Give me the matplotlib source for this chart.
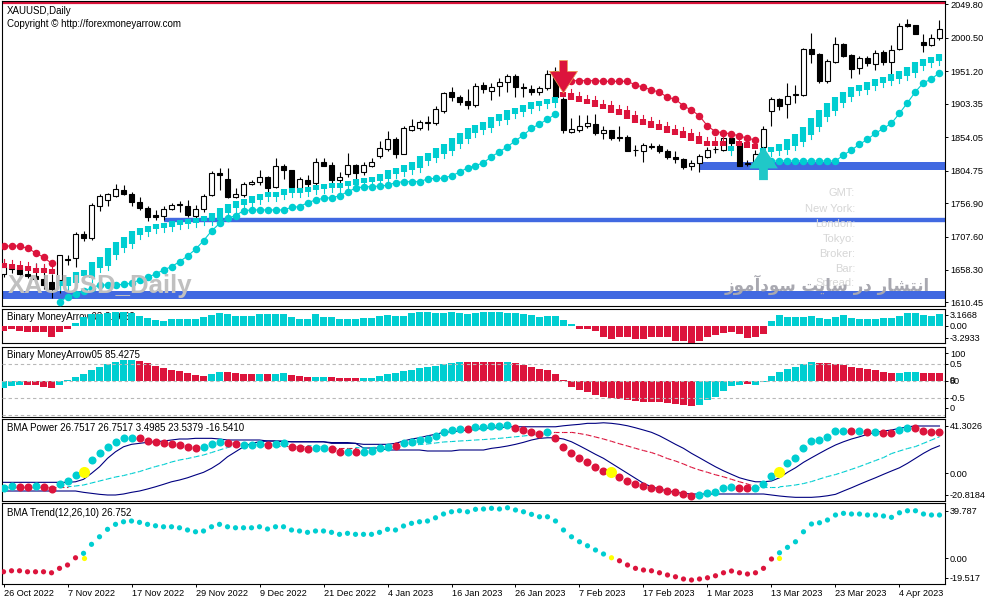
import matplotlib.pyplot as plt
import numpy as np
from matplotlib.patches import Polygon

plt.rcParams['font.family'] = ['Liberation Sans', 'DejaVu Sans']

# ---------------- data ----------------
date_labels = ['26 Oct 2022', '7 Nov 2022', '17 Nov 2022', '29 Nov 2022', '9 Dec 2022',
               '21 Dec 2022', '4 Jan 2023', '16 Jan 2023', '26 Jan 2023', '7 Feb 2023',
               '17 Feb 2023', '1 Mar 2023', '13 Mar 2023', '23 Mar 2023', '4 Apr 2023']
date_bars = [0, 8, 16, 24, 32, 40, 48, 56, 64, 72, 80, 88, 96, 104, 112]

price_ticks = [2049.80, 2000.50, 1951.20, 1903.35, 1854.05, 1804.75,
               1756.90, 1707.60, 1658.30, 1610.45]

opens = [1652, 1661, 1661, 1653, 1650, 1645, 1640, 1644, 1675, 1676,
         1711, 1705, 1753, 1762, 1768, 1776, 1771, 1759, 1749, 1739,
         1738, 1748, 1754, 1752, 1738, 1748, 1769, 1802, 1793, 1766,
         1769, 1785, 1788, 1796, 1780, 1811, 1806, 1779, 1791, 1786,
         1817, 1813, 1791, 1800, 1813, 1803, 1812, 1827, 1837, 1852,
         1830, 1864, 1868, 1875, 1875, 1893, 1920, 1914, 1908, 1901,
         1931, 1922, 1930, 1935, 1944, 1928, 1925, 1920, 1926, 1951,
         1911, 1862, 1865, 1871, 1874, 1860, 1864, 1854, 1854, 1835,
         1834, 1840, 1841, 1833, 1825, 1822, 1812, 1816, 1825, 1837,
         1835, 1853, 1845, 1814, 1816, 1840, 1892, 1910, 1903, 1917,
         1916, 1984, 1977, 1937, 1965, 1991, 1975, 1956, 1971, 1962,
         1979, 1965, 1984, 2021, 2020, 1994, 1990, 2001]
highs = [1675, 1666, 1666, 1663, 1668, 1666, 1652, 1681, 1681, 1714,
         1716, 1757, 1770, 1772, 1785, 1784, 1774, 1766, 1753, 1747,
         1753, 1757, 1760, 1761, 1754, 1770, 1804, 1808, 1809, 1779,
         1788, 1791, 1806, 1797, 1824, 1814, 1806, 1796, 1798, 1823,
         1823, 1818, 1803, 1831, 1814, 1818, 1824, 1848, 1863, 1855,
         1870, 1881, 1879, 1885, 1900, 1921, 1928, 1916, 1925, 1934,
         1936, 1934, 1941, 1947, 1947, 1934, 1931, 1930, 1953, 1957,
         1914, 1882, 1887, 1887, 1888, 1870, 1865, 1870, 1857, 1843,
         1845, 1845, 1844, 1836, 1833, 1823, 1821, 1829, 1840, 1841,
         1855, 1855, 1848, 1821, 1835, 1870, 1914, 1912, 1934, 1931,
         1985, 2008, 1978, 1970, 2002, 1993, 1977, 1974, 1974, 1983,
         1983, 1990, 2022, 2029, 2020, 2006, 2006, 2027]
lows = [1648, 1654, 1648, 1646, 1640, 1630, 1617, 1625, 1666, 1663,
        1701, 1702, 1745, 1752, 1766, 1769, 1752, 1747, 1731, 1732,
        1732, 1747, 1744, 1737, 1734, 1744, 1767, 1776, 1764, 1764,
        1766, 1784, 1784, 1774, 1779, 1793, 1774, 1774, 1779, 1784,
        1811, 1784, 1784, 1796, 1793, 1798, 1810, 1823, 1834, 1823,
        1829, 1863, 1865, 1865, 1872, 1890, 1908, 1902, 1895, 1899,
        1919, 1909, 1915, 1920, 1914, 1914, 1916, 1916, 1923, 1910,
        1860, 1861, 1862, 1867, 1858, 1851, 1850, 1848, 1834, 1826,
        1817, 1836, 1831, 1822, 1816, 1807, 1805, 1803, 1823, 1831,
        1833, 1833, 1811, 1811, 1812, 1838, 1870, 1894, 1883, 1904,
        1915, 1964, 1934, 1934, 1963, 1973, 1942, 1947, 1959, 1953,
        1961, 1947, 1983, 2017, 2006, 1979, 1989, 1998]
closes = [1663, 1660, 1652, 1650, 1645, 1636, 1630, 1680, 1673, 1711,
          1705, 1754, 1767, 1770, 1777, 1771, 1759, 1749, 1737, 1737,
          1748, 1754, 1755, 1739, 1748, 1767, 1802, 1798, 1766, 1771,
          1785, 1788, 1796, 1779, 1811, 1806, 1781, 1792, 1785, 1817,
          1812, 1791, 1796, 1813, 1801, 1813, 1817, 1838, 1852, 1830,
          1867, 1870, 1876, 1876, 1895, 1919, 1913, 1906, 1902, 1930,
          1925, 1928, 1936, 1944, 1928, 1927, 1921, 1927, 1948, 1913,
          1865, 1866, 1871, 1875, 1860, 1865, 1853, 1853, 1834, 1835,
          1842, 1841, 1834, 1825, 1822, 1810, 1816, 1826, 1835, 1836,
          1853, 1845, 1812, 1816, 1829, 1866, 1911, 1900, 1915, 1918,
          1984, 1977, 1937, 1966, 1991, 1974, 1954, 1971, 1963, 1978,
          1965, 1983, 2018, 2018, 2006, 1990, 2001, 2013]

# trailing stop dots (r = above price, c = below price)
stop_vals = [1693.7, 1693.7, 1693.7, 1690.3, 1683.8, 1677.0, 1668.2,
             1611.6, 1618.5, 1622.9, 1627.3, 1631.8, 1636.2, 1636.2, 1636.2, 1637.2, 1638.7,
             1643.6, 1647.5, 1652.4, 1658.3, 1663.2, 1670.5, 1678.9, 1688.8, 1701.5, 1715.8,
             1726.9, 1734.5, 1738.4, 1745.7, 1746.8, 1746.8, 1746.8, 1746.8, 1746.8, 1750.7,
             1751.6, 1757.5, 1761.5, 1764.0, 1764.9, 1767.4, 1773.7, 1778.7, 1781.1, 1781.1,
             1782.1, 1783.2, 1787.0, 1788.5, 1788.5, 1788.5, 1792.5, 1793.5, 1793.5, 1797.3,
             1802.3, 1809.1, 1812.1, 1816.5, 1825.4, 1832.7, 1840.1, 1848.9, 1857.3, 1867.2,
             1873.6, 1880.5, 1888.3,
             1937.4, 1937.4, 1937.4, 1937.4, 1937.4, 1936.5, 1936.5, 1936.5, 1936.5, 1931.0,
             1927.7, 1923.7, 1920.5, 1912.9, 1910.0, 1900.1, 1894.2, 1885.3, 1870.6, 1862.2,
             1860.7, 1858.8, 1855.9, 1852.5, 1850.0,
             1819.0, 1819.0, 1819.0, 1819.0, 1819.0, 1819.0, 1819.0, 1819.0, 1819.0, 1819.0,
             1827.8, 1835.2, 1843.6, 1851.0, 1859.8, 1867.2, 1874.6, 1889.3, 1904.9, 1921.2,
             1934.4, 1939.9, 1949.2]
stop_side = 'r' * 7 + 'c' * 63 + 'r' * 25 + 'c' * 23

# step markers (squares)
step_vals = [1660.8, 1659.8, 1658.3, 1656.8, 1654.3, 1653.4, 1652.4,
             1642.1, 1648.0, 1655.4, 1658.3, 1670.1, 1677.5, 1690.7, 1699.6, 1707.0, 1715.8,
             1720.2, 1723.2, 1725.4, 1727.6, 1730.5, 1732.0, 1733.5, 1735.0, 1737.2, 1741.6,
             1749.7, 1755.6, 1760.0, 1763.7, 1767.4, 1770.4, 1772.6, 1774.0, 1777.0, 1778.5,
             1779.6, 1781.1, 1783.6, 1785.8, 1787.0, 1787.0, 1789.5, 1792.9, 1794.4, 1795.8,
             1799.8, 1805.7, 1809.1, 1812.7, 1818.0, 1826.4, 1831.2, 1837.7, 1844.1, 1852.5,
             1859.8, 1867.2, 1872.1, 1876.9, 1884.3, 1887.9, 1894.2, 1897.6, 1901.6, 1905.5,
             1907.9, 1910.0, 1913.8,
             1912.9, 1908.9, 1905.5, 1902.6, 1898.2, 1895.2, 1890.2, 1886.4, 1880.5, 1875.5,
             1871.6, 1868.1, 1864.7, 1860.7, 1857.3, 1853.3, 1848.5, 1843.6, 1841.6, 1841.6,
             1841.6, 1841.6, 1841.6, 1838.6, 1836.3,
             1838.2, 1840.1, 1844.1, 1851.0, 1858.8, 1869.6, 1882.0, 1894.2, 1904.0, 1913.8,
             1921.2, 1927.6, 1931.0, 1935.9, 1939.9, 1943.3, 1947.3, 1952.1, 1958.0, 1965.4,
             1968.9, 1972.8, 1976.8]
step_side = 'r' * 7 + 'c' * 63 + 'r' * 21 + 'c' + 'r' * 3 + 'c' * 23

level_prices = [1731.3, 1621.4, 1810.9]
level_from = [20, -0.2, 87]
level_px = [4.4, 8, 8]
top_line = 2051.5
sell_bar = 70
buy_bar = 95

# Binary MoneyArrow03
bin3 = [-1.34, -0.94, -1.34, -1.8, -1.8, -1.8, -3.05, -1.8, -0.94, 0.94,
        2.5, 3.3, 3.4, 3.6, 4.1, 4.1, 3.6, 2.85, 2.2, 1.7,
        1.5, 2.0, 2.0, 2.0, 2.0, 2.5, 3.1, 3.6, 3.4, 2.9,
        2.9, 2.9, 3.4, 3.4, 3.4, 3.4, 2.65, 2.0, 2.0, 3.4,
        2.65, 2.5, 2.0, 2.0, 2.0, 2.2, 2.2, 2.9, 3.1, 2.9,
        2.9, 3.6, 3.9, 3.9, 3.6, 3.6, 3.9, 3.6, 3.4, 3.6,
        3.9, 3.9, 4.1, 3.8, 3.8, 3.4, 3.1, 2.65, 2.9, 2.9,
        1.7, 0.57, -0.94, -0.94, -1.34, -3.05, -3.8, -3.2, -3.2, -3.8,
        -3.8, -3.2, -3.2, -3.05, -4.2, -4.2, -4.76, -4.2, -3.2, -2.57,
        -2.08, -1.8, -2.37, -3.5, -3.2, -2.37, 1.5, 3.1, 2.5, 2.5,
        2.65, 2.85, 2.2, 2.0, 2.5, 3.1, 2.2, 2.0, 2.0, 2.0,
        2.3, 2.3, 2.85, 3.8, 3.6, 3.1, 2.85, 3.4]

# Binary MoneyArrow05
bin5 = [-0.21, -0.15, -0.13, -0.13, -0.13, -0.17, -0.20, -0.12, 0.03, 0.13,
        0.21, 0.32, 0.40, 0.50, 0.57, 0.62, 0.62, 0.59, 0.52, 0.44,
        0.39, 0.32, 0.29, 0.24, 0.18, 0.15, 0.21, 0.27, 0.27, 0.23,
        0.21, 0.21, 0.21, 0.21, 0.21, 0.24, 0.18, 0.15, 0.11, 0.11,
        0.11, 0.11, 0.08, 0.08, 0.08, 0.08, 0.08, 0.15, 0.21, 0.24,
        0.29, 0.32, 0.37, 0.42, 0.44, 0.50, 0.52, 0.57, 0.57, 0.57,
        0.57, 0.57, 0.57, 0.57, 0.54, 0.47, 0.40, 0.35, 0.32, 0.21,
        0.03, -0.19, -0.26, -0.33, -0.41, -0.46, -0.49, -0.53, -0.56, -0.58,
        -0.61, -0.63, -0.63, -0.66, -0.68, -0.71, -0.73, -0.71, -0.56, -0.46,
        -0.29, -0.15, -0.12, -0.10, -0.12, -0.02, 0.15, 0.27, 0.35, 0.42,
        0.49, 0.57, 0.54, 0.54, 0.50, 0.47, 0.42, 0.39, 0.34, 0.32,
        0.27, 0.24, 0.24, 0.27, 0.27, 0.24, 0.24, 0.24]
bin5_side = ('ccc' 'rrrr' 'cccccccccc' 'rrrrrrrrr' 'cc' 'rrrr' 'c' 'r' 'cc' 'rrr'
             'cc' 'rrrr' 'ccccccccccccc' 'rrrrr' 'c' 'rrrrrrrrrrrrrrrrrrrrrrr'
             'cccccc' 'r' 'cccccccc' 'rrrrrrrrrr' 'ccc' 'rrr')

# BMA Power
power = [-13.0, -11.4, -12.6, -12.6, -11.4, -12.6, -14.1, -9.9, -6.9, -1.5,
         0.9, 12.0, 18.5, 23.9, 28.4, 31.5, 32.0, 31.5, 29.3, 27.9,
         27.0, 26.1, 25.5, 23.4, 22.5, 23.4, 26.1, 28.4, 27.0, 26.1,
         25.5, 25.5, 26.1, 25.5, 26.1, 27.5, 23.9, 23.0, 21.6, 22.5,
         22.5, 21.6, 19.4, 19.4, 18.9, 19.4, 20.1, 22.5, 23.9, 24.6,
         27.0, 28.4, 30.0, 30.9, 33.8, 37.4, 39.0, 39.9, 39.9, 41.9,
         41.9, 42.6, 42.6, 43.5, 41.0, 39.0, 37.4, 35.4, 36.9, 31.5,
         23.9, 18.0, 13.5, 9.9, 5.9, 2.3, 1.4, -3.1, -6.9, -9.6,
         -11.2, -13.0, -14.1, -15.9, -17.1, -18.9, -20.2, -19.5, -18.0, -16.6,
         -13.5, -12.1, -13.0, -13.5, -13.5, -9.9, -2.2, 1.4, 9.0, 14.0,
         22.5, 29.1, 30.0, 32.9, 38.1, 38.1, 38.1, 38.1, 37.4, 36.9,
         36.0, 36.0, 39.0, 40.5, 40.5, 38.1, 37.4, 37.4]
power_side = ('ccrrcrrccc' 'y' 'cccccc' 'rrrrrrrr' 'ccc' 'rr' 'ccc' 'r' 'cc' 'rrr'
              'cc' 'rr' 'c' 'r' 'cccc' 'r' 'cccccccc' 'r' 'ccccc' 'rrrr' 'c'
              'rrrrrrr' 'y' 'rrrrrrrrrr' 'ccccc' 'rr' 'ccc' 'y' 'cccccccc'
              'r' 'c' 'r' 'c' 'rr' 'cc' 'rrrr')
band_hi = [-8.1, -8.1, -8.1, -8.1, -8.1, -8.1, -8.1, -8.1, -8.1, -7.6,
           -5.4, 0.0, 5.9, 13.5, 19.4, 23.9, 26.1, 27.0, 27.9, 28.4,
           29.1, 30.0, 30.9, 30.9, 31.5, 31.5, 31.5, 30.9, 30.0, 30.0,
           30.0, 30.0, 30.0, 29.1, 29.1, 29.1, 28.4, 28.4, 28.4, 28.4,
           28.4, 27.7, 27.7, 27.7, 27.0, 26.1, 26.1, 26.1, 26.1, 27.0,
           29.1, 30.9, 32.0, 33.8, 35.1, 36.9, 37.4, 38.1, 39.0, 39.6,
           40.5, 41.0, 41.0, 41.9, 41.9, 41.9, 41.9, 41.9, 41.9, 41.9,
           42.8, 43.5, 44.1, 45.0, 45.0, 45.5, 45.0, 44.1, 42.8, 41.0,
           39.0, 36.9, 33.8, 30.0, 26.1, 22.5, 18.0, 14.0, 9.9, 5.9,
           2.3, -0.9, -4.0, -6.0, -7.6, -7.6, -6.9, -4.0, 0.9, 5.0,
           9.9, 14.0, 18.0, 21.9, 25.5, 28.4, 30.9, 32.9, 35.1, 36.9,
           38.1, 39.0, 40.5, 41.9, 42.6, 42.6, 42.6, 42.6]
band_lo = [-15.9, -15.9, -15.9, -15.9, -15.9, -15.9, -15.9, -15.9, -15.9, -15.9,
           -17.1, -18.0, -18.9, -19.5, -19.5, -18.6, -17.1, -15.9, -14.1, -12.1,
           -9.9, -7.6, -6.0, -4.0, -1.5, 0.9, 4.5, 9.0, 14.9, 19.4,
           23.9, 27.0, 28.4, 29.1, 29.1, 28.4, 28.4, 28.4, 28.4, 28.4,
           28.4, 27.0, 27.0, 27.0, 27.0, 22.8, 22.8, 22.8, 21.0, 21.0,
           21.0, 21.0, 21.0, 20.1, 20.1, 20.1, 20.1, 21.0, 21.0, 21.0,
           21.0, 22.5, 23.4, 24.6, 26.1, 27.9, 30.0, 31.5, 32.0, 32.0,
           30.9, 28.4, 24.8, 21.0, 17.1, 13.5, 9.0, 4.5, 0.0, -4.5,
           -9.0, -12.1, -14.1, -15.9, -17.1, -18.0, -18.6, -18.6, -18.6, -18.6,
           -18.6, -18.6, -18.6, -18.6, -18.6, -18.6, -19.5, -20.4, -21.1, -21.6,
           -21.6, -21.6, -21.1, -20.2, -18.9, -15.9, -13.0, -9.9, -6.9, -4.0,
           -0.9, 2.1, 5.0, 9.0, 13.5, 18.0, 21.9, 24.8]
band_mid = [-12.1, -12.1, -12.1, -12.1, -12.1, -12.1, -12.1, -12.1, -12.1, -11.4,
            -10.5, -8.7, -6.9, -5.1, -3.3, -2.0, -0.2, 1.6, 3.9, 6.1,
            7.9, 10.2, 12.0, 13.3, 14.9, 16.5, 18.7, 21.0, 23.2, 25.0,
            25.9, 26.1, 26.1, 26.1, 25.0, 25.0, 25.0, 25.0, 25.0, 24.6,
            24.6, 23.2, 23.2, 23.2, 23.2, 22.8, 23.2, 23.7, 24.1, 24.6,
            25.0, 25.5, 25.9, 26.4, 27.3, 28.2, 28.6, 29.1, 29.5, 30.0,
            30.4, 30.9, 31.5, 32.2, 32.9, 33.6, 34.5, 35.1, 35.8, 36.9,
            36.9, 36.9, 35.8, 34.5, 32.7, 30.9, 28.8, 26.6, 24.6, 22.5,
            20.5, 18.7, 16.2, 13.3, 11.1, 8.4, 5.4, 3.0, 0.9, -1.3,
            -3.1, -5.4, -7.6, -9.6, -12.1, -12.1, -12.1, -12.1, -11.4, -10.5,
            -9.2, -7.4, -5.1, -2.9, -1.1, 1.2, 3.6, 6.1, 8.8, 11.5,
            14.2, 17.8, 20.1, 22.3, 24.1, 27.0, 30.0, 32.9]
mid_side = 'r' * 9 + 'c' * 25 + 'r' * 5 + 'c' * 2 + 'r' * 4 + 'c' * 24 + 'r' * 26 + 'c' * 23

# BMA Trend
trend = [-12.1, -11.2, -11.2, -12.1, -12.1, -12.1, -13.0, -9.0, -6.0, 0.5,
         4.5, 12.6, 19.4, 26.1, 30.6, 32.9, 33.6, 32.4, 30.6, 29.3,
         28.4, 28.4, 27.5, 25.5, 23.9, 24.6, 28.4, 30.6, 28.4, 27.5,
         27.5, 27.5, 28.4, 26.4, 28.4, 28.4, 25.5, 24.6, 23.4, 24.6,
         24.6, 23.4, 21.6, 22.5, 21.6, 21.6, 21.6, 23.4, 26.1, 25.5,
         29.1, 31.5, 32.9, 33.6, 36.5, 39.9, 41.9, 42.8, 41.9, 44.1,
         44.4, 45.0, 44.4, 45.5, 43.5, 41.9, 39.6, 37.4, 37.4, 33.6,
         25.5, 19.4, 14.9, 11.3, 7.5, 3.9, 0.5, -2.2, -6.0, -9.0,
         -10.5, -11.2, -13.0, -15.0, -16.6, -18.6, -19.5, -18.6, -17.5, -15.7,
         -13.0, -11.4, -13.0, -14.1, -13.0, -9.0, -0.6, 5.0, 9.9, 14.9,
         23.9, 30.9, 32.0, 34.5, 39.0, 40.5, 39.9, 39.9, 39.0, 39.0,
         38.1, 36.9, 41.0, 42.8, 42.8, 39.9, 39.0, 39.0]
trend_side = 'r' * 10 + 'c' * 66 + 'y' + 'r' * 20 + 'c' * 21
trend_sig_bars = [10, 97]
trend_sig_vals = [0.5, 0.5]

info_labels = ['GMT:', 'New York:', 'London:', 'Tokyo:', 'Broker:', 'Bar:', 'Spread:']
info_y = [193.3, 209, 224.3, 239, 254, 269, 283.3]
# "انتشار در سایت سودآموز" written with presentation forms in visual order
persian = ('\ufeaf\ufeee\ufee3\ufe81\ufea9\ufeee\ufeb3 \ufe96\ufef3\ufe8e\ufeb3 '
           '\ufead\ufea9 \ufead\ufe8e\ufeb8\ufe98\ufee7\ufe8d')

# ---------------- drawing ----------------
W, H = 991, 605
PX = 1.4743  # price per pixel in the main window
CYAN, RED, YEL, NAVY, BLUE = '#00CED1', '#DC143C', '#FFFF00', '#000080', '#4169E1'
col = {'c': CYAN, 'r': RED, 'y': YEL}

fig = plt.figure(figsize=(W / 100, H / 100), dpi=100)
fig.patch.set_facecolor('white')


def make_ax(top, bottom):
    ax = fig.add_axes([2 / W, 1 - bottom / H, 943 / W, (bottom - top) / H])
    ax.set_xlim(-0.19, 117.69)
    ax.yaxis.tick_right()
    ax.tick_params(axis='y', length=2.2, width=0.7, pad=1.4, labelsize=6.6)
    ax.tick_params(axis='x', bottom=False, labelbottom=False)
    for sp in ax.spines.values():
        sp.set_linewidth(0.8)
    ax.top_px, ax.bot_px = top, bottom
    return ax


def panel_label(ax, yp, s, z=6):
    ax.text(5 / 943, (ax.bot_px - yp) / (ax.bot_px - ax.top_px), s, transform=ax.transAxes,
            ha='left', va='center', fontsize=7, zorder=z)


ax1 = make_ax(1, 306)
ax2 = make_ax(308.5, 343)
ax3 = make_ax(347, 417)
ax4 = make_ax(419, 501)
ax5 = make_ax(503, 584)

n = len(opens)
x = np.arange(n)
o, hi, lo, c = (np.array(v, dtype=float) for v in (opens, highs, lows, closes))

# main window
ax1.set_ylim(1605.2, 2054.9)
ax1.set_yticks(price_ticks, ['%.2f' % p for p in price_ticks])
ax1.axhline(top_line, color=RED, lw=1.6, zorder=2)
for p, x0, w in zip(level_prices, level_from, level_px):
    ax1.hlines(p, x0, 117.69, color=BLUE, lw=w * 0.72, zorder=1)

ax1.vlines(x, lo, hi, color='black', lw=0.8, zorder=3)
bull = c >= o
ax1.bar(x, np.maximum(np.abs(c - o), 0.9), 0.6, bottom=np.minimum(o, c),
        color=np.where(bull, 'white', 'black'), edgecolor='black', lw=0.8, zorder=4)

sv = np.array(step_vals)
for i in range(n):
    s = step_side[i]
    d = abs(sv[i] - sv[i - 1]) / PX if i > 0 and step_side[i - 1] == s else 0
    hpx = max(5, 1.8 * d + 2)
    if s == 'c':
        top, bot = sv[i], sv[i] - hpx * PX
        stem = [bot - 4 * PX, bot]
    else:
        bot, top = sv[i], sv[i] + hpx * PX
        stem = [top, top + 4 * PX]
    ax1.plot([i, i], [bot, top], color=col[s], lw=4.4, solid_capstyle='butt', zorder=5)
    ax1.plot([i, i], stem, color=col[s], lw=0.8, zorder=5)

stv = np.array(stop_vals)
start = 0
for i in range(1, n + 1):
    if i == n or stop_side[i] != stop_side[start]:
        ax1.plot(x[start:i], stv[start:i], '-o', color=col[stop_side[start]],
                 ms=4.4, lw=0.8, zorder=6)
        start = i

# signal arrows
a, tip = sell_bar, hi[sell_bar] + 3.5 * PX
ax1.add_patch(Polygon([(a, tip), (a - 1.75, tip + 21.7 * PX), (a - 0.5, tip + 21.7 * PX),
                       (a - 0.5, tip + 32.5 * PX), (a + 0.5, tip + 32.5 * PX),
                       (a + 0.5, tip + 21.7 * PX), (a + 1.75, tip + 21.7 * PX)],
                      closed=True, fc=RED, ec='#F0A050', lw=0.5, zorder=7))
a, tip = buy_bar, lo[buy_bar] + 1.4 * PX
ax1.add_patch(Polygon([(a, tip), (a - 1.8, tip - 21.7 * PX), (a - 0.55, tip - 21.7 * PX),
                       (a - 0.55, tip - 33.4 * PX), (a + 0.55, tip - 33.4 * PX),
                       (a + 0.55, tip - 21.7 * PX), (a + 1.8, tip - 21.7 * PX)],
                      closed=True, fc='#20C8C8', ec='none', zorder=7))

# window 2: Binary MoneyArrow03
b3 = np.array(bin3)
ax2.set_ylim(-4.85, 4.99)
ax2.bar(x, b3, 0.84, color=np.where(b3 >= 0, CYAN, RED), zorder=3)
ax2.set_yticks([3.1668, 0, -3.2933], ['3.1668', '0.00', '-3.2933'])
panel_label(ax2, 317.3, 'Binary MoneyArrow03 3.1668', z=1)

# window 3: Binary MoneyArrow05
ax3.set_ylim(-1.06, 1.0)
ax3.bar(x, bin5, 0.84, color=[col[s] for s in bin5_side], zorder=3)
for lev in (0.5, 0, -0.5, -1.0):
    ax3.axhline(lev, color='#B8B8B8', lw=0.8, ls=(0, (3, 2.5)), zorder=4)
ax3.set_yticks([0.815, 0.5, 0, -0.5, -0.79], ['100', '0.5', '80', '-0.5', '0'])
ax3.text(1.0, 0, '  0', transform=ax3.get_yaxis_transform(), fontsize=6.6,
         ha='left', va='center', clip_on=False)
panel_label(ax3, 355.5, 'Binary MoneyArrow05 85.4275')

# window 4: BMA Power
ax4.set_ylim(-24.9, 48.9)
ax4.plot(x, band_hi, color=NAVY, lw=0.8, zorder=2)
ax4.plot(x, band_lo, color=NAVY, lw=0.8, zorder=2)
for i in range(1, n):
    ax4.plot([i - 1, i], [band_mid[i - 1], band_mid[i]], color=col[mid_side[i]],
             lw=0.8, dashes=(3.6, 2.2), zorder=2)
pw = np.array(power)
for i in range(n):
    s = power_side[i]
    ax4.plot(i, pw[i], 'o', color=col[s], ms=8.0 if s == 'y' else 5.8, mec='none', zorder=4)
ax4.set_yticks([42.8, 0, -19.5], ['41.3026', '0.00', '-20.8184'])
panel_label(ax4, 428, 'BMA Power 26.7517 26.7517 3.4985 23.5379 -16.5410')

# window 5: BMA Trend
ax5.set_ylim(-23.1, 49.8)
ax5.scatter(x, trend, s=14, c=[col[s] for s in trend_side], linewidths=0, zorder=3)
ax5.scatter(trend_sig_bars, trend_sig_vals, s=14, c=YEL, linewidths=0, zorder=3)
ax5.set_yticks([42.6, 0, -17.5], ['39.787', '0.00', '-19.517'])
panel_label(ax5, 513, 'BMA Trend(12,26,10) 26.752')
ax5.set_xticks(date_bars, date_labels, ha='left')
ax5.tick_params(axis='x', bottom=True, labelbottom=True, length=2.2, width=0.7,
                pad=1.5, labelsize=6.6)

# texts on the chart
fig.text(7 / W, 1 - 10.5 / H, 'XAUUSD,Daily', fontsize=7, va='center')
fig.text(7 / W, 1 - 23.8 / H, 'Copyright \u00a9 http://forexmoneyarrow.com', fontsize=7, va='center')
for s, yp in zip(info_labels, info_y):
    fig.text(855 / W, 1 - yp / H, s, fontsize=8, color='#D6D6D6', ha='right', va='center')
fig.text(8 / W, 1 - 286 / H, 'XAUUSD_Daily', fontsize=18.5, fontweight='bold', color='#C0C0C0',
         family=['Liberation Sans'], va='center')
fig.text(930 / W, 1 - 285 / H, persian, fontsize=12, fontweight='bold', color='#A8A8B0',
         family=['DejaVu Sans'], ha='right', va='center')

fig.savefig('out.png', dpi=100, facecolor='white')
